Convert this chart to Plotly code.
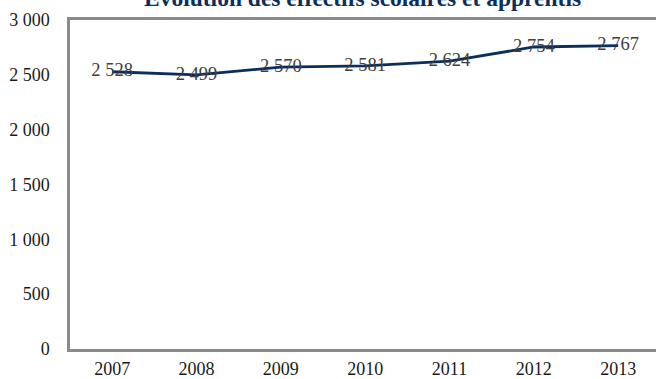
import plotly.graph_objects as go

years = ["2007", "2008", "2009", "2010", "2011", "2012", "2013"]
effectifs = [2528, 2499, 2570, 2581, 2624, 2754, 2767]
y_ticks = [0, 500, 1000, 1500, 2000, 2500, 3000]
y_tick_labels = ["0", "500", "1 000", "1 500", "2 000", "2 500", "3 000"]
title_text = "Évolution des effectifs scolaires et apprentis"

def fmt(v):
    return f"{v:,}".replace(",", " ")

x_idx = list(range(len(years)))
W, H = 656, 379
ml, mr, mt, mb = 70, 0, 20, 30
step = 84.33
plot_w = W - ml - mr
plot_h = H - mt - mb

fig = go.Figure()
fig.add_trace(go.Scatter(
    x=x_idx, y=effectifs,
    mode="lines+text",
    line=dict(color="#0b2e5c", width=2.8),
    text=[fmt(v) for v in effectifs],
    textposition="middle center",
    textfont=dict(family="Liberation Serif", size=18.5, color="#404040"),
    cliponaxis=False,
    hoverinfo="skip",
))

fig.update_layout(
    width=W, height=H,
    margin=dict(l=ml, r=mr, t=mt, b=mb, autoexpand=False),
    paper_bgcolor="white", plot_bgcolor="white",
    showlegend=False,
    font=dict(family="Liberation Serif", size=18, color="#1a1a1a"),
)
fig.update_xaxes(
    range=[-0.5, -0.5 + plot_w / step],
    tickmode="array", tickvals=x_idx, ticktext=years,
    showgrid=False, zeroline=False,
    showline=True, linecolor="#8a8a8a", linewidth=2.5, mirror=True,
    ticks="", tickfont=dict(size=18, color="#1a1a1a"),
    ticklabelstandoff=2,
    automargin=False,
)
fig.update_yaxes(
    range=[0, 3000],
    tickmode="array", tickvals=y_ticks, ticktext=y_tick_labels,
    showgrid=False, zeroline=False,
    showline=True, linecolor="#8a8a8a", linewidth=2.5,
    ticks="", tickfont=dict(size=18, color="#1a1a1a"),
    ticklabelstandoff=14,
    automargin=False,
)
fig.add_annotation(
    text="<b>" + title_text + "</b>",
    xref="paper", yref="paper",
    x=(362 - ml) / plot_w, y=1 + (mt - 13) / plot_h,
    xanchor="center", yanchor="bottom",
    showarrow=False,
    font=dict(family="Liberation Serif", size=23.5, color="#0b2e5c"),
)

fig.write_html("out.html", config={"displayModeBar": False},
               post_script="document.body.style.margin='0';")
